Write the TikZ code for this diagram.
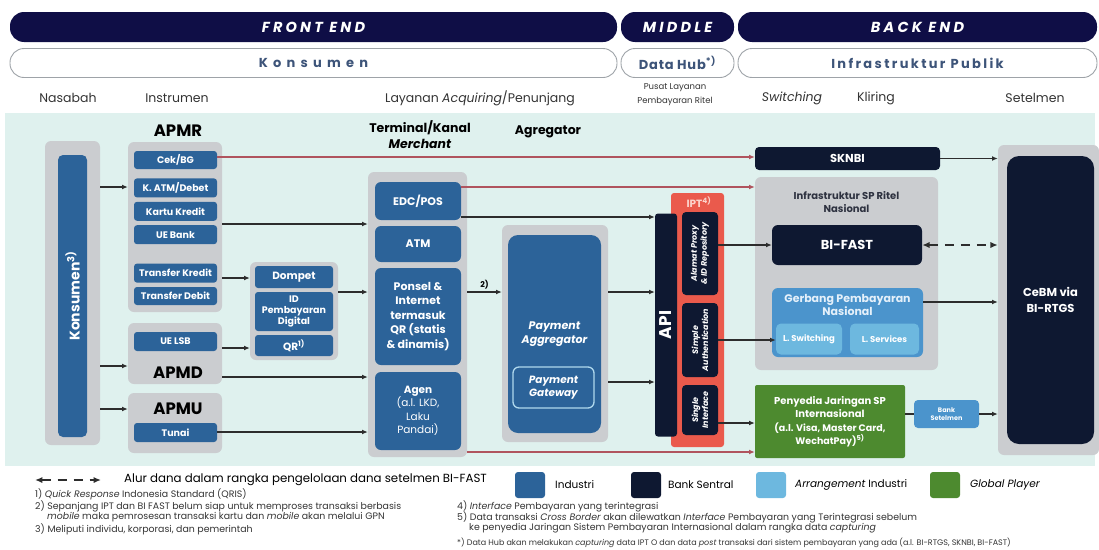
\documentclass[tikz,border=0pt]{standalone}
\usepackage{fontspec}
\setmainfont{Poppins}
\usetikzlibrary{arrows.meta,positioning,calc}
\definecolor{navy}{HTML}{0F0E46}
\definecolor{sentralc}{HTML}{0E1831}
\definecolor{industric}{HTML}{2C6399}
\definecolor{arrangec}{HTML}{6DB8DF}
\definecolor{gerbangc}{HTML}{4B94CC}
\definecolor{globalc}{HTML}{4D8A2F}
\definecolor{groupgray}{HTML}{CBCDD0}
\definecolor{iptred}{HTML}{EA5A4C}
\definecolor{iptlight}{HTML}{FBD3CB}
\definecolor{bgteal}{HTML}{DFF1EE}
\definecolor{konsc}{HTML}{3D5479}
\definecolor{infrac}{HTML}{2E3240}
\definecolor{gerbtext}{HTML}{E4F0FA}
\definecolor{flowred}{HTML}{B0545E}
\definecolor{linkc}{HTML}{2D2D2D}
\definecolor{edgec}{HTML}{9EA3A8}
\tikzset{
  band/.style={fill=navy,rounded corners=14pt,minimum height=30pt,inner sep=0pt},
  bandtext/.style={text=white,inner sep=0pt,
    font=\fontsize{14.5}{16}\selectfont\bfseries\itshape\addfontfeatures{LetterSpace=22}},
  tier/.style={draw=edgec,fill=white,rounded corners=14pt,line width=0.9pt,
    minimum height=29pt,inner sep=0pt},
  tiertext/.style={text=konsc,inner sep=0pt,
    font=\fontsize{13}{15}\selectfont\bfseries\addfontfeatures{LetterSpace=40}},
  colhead/.style={inner sep=0pt,align=center,text=black!80,font=\fontsize{12.5}{14}\selectfont},
  grp/.style={fill=groupgray,rounded corners=6pt,inner sep=0pt},
  grouplabel/.style={inner sep=0pt,font=\fontsize{16.5}{18}\selectfont\bfseries},
  toplabel/.style={inner sep=0pt,align=center,font=\fontsize{12.5}{16}\selectfont\bfseries},
  indbox/.style={fill=industric,rounded corners=3pt,inner sep=0pt,text=white,align=center,
    font=\fontsize{9.5}{11}\selectfont\bfseries},
  sentralbox/.style={fill=sentralc,rounded corners=4pt,inner sep=0pt,text=white,align=center,
    font=\bfseries},
  vtext/.style={rotate=90,inner sep=0pt,text=white,align=center,
    font=\fontsize{8}{10}\selectfont\bfseries\itshape},
  link/.style={-{Latex[length=2mm,width=1.7mm]},draw=linkc,line width=1.2pt},
  redlink/.style={-{Latex[length=2mm,width=1.7mm]},draw=flowred,line width=1.5pt},
  fundflow/.style={{Latex[length=2.6mm,width=2.2mm]}-{Latex[length=2.6mm,width=2.2mm]},
    draw=linkc,line width=2pt,dash pattern=on 9pt off 7pt},
  swatch/.style={minimum width=30pt,minimum height=26pt,rounded corners=3pt,inner sep=0pt},
  legendtext/.style={anchor=west,inner sep=0pt,font=\fontsize{10.5}{12}\selectfont},
  note/.style={anchor=west,inner sep=0pt,text=black!80,font=\fontsize{9.4}{10}\selectfont}
}

\begin{document}
\begin{tikzpicture}[x=1pt,y=-1pt]
\useasboundingbox (0,0) rectangle (1099,549);
\fill[bgteal] (5,113) rectangle (1095,466);

\node[band,minimum width=607] (fe) at (313.5,27) {};
\node[band,minimum width=113] (mid) at (677.5,27) {};
\node[band,minimum width=359] (be) at (917.5,27) {};
\node[bandtext] at (fe) {FRONT END};
\node[bandtext] at (mid) {MIDDLE};
\node[bandtext] at (be) {BACK END};
\node[tier,minimum width=607] (kons) at (313.5,63) {};
\node[tier,minimum width=113] (hub) at (677.5,63) {};
\node[tier,minimum width=359] (infp) at (917.5,63) {};
\node[tiertext] at (kons) {Konsumen};
\node[tiertext,font=\fontsize{13}{15}\selectfont\bfseries\addfontfeatures{LetterSpace=6}] at (hub) {Data Hub\textsuperscript{*)}};
\node[tiertext,font=\fontsize{13}{15}\selectfont\bfseries\addfontfeatures{LetterSpace=18}] at (infp) {Infrastruktur Publik};

\node[colhead] (nas) at (68,98) {Nasabah};
\node[colhead] (instr) at (177,98) {Instrumen};
\node[colhead] (lay) at (480,98) {Layanan \textit{Acquiring}/Penunjang};
\node[colhead,font=\fontsize{8.5}{14}\selectfont] (pusat) at (675,95) {Pusat Layanan\\Pembayaran Ritel};
\node[colhead] (sw) at (792,98) {\textit{Switching}};
\node[colhead] (kl) at (876,98) {Kliring};
\node[colhead] (st) at (1035,98) {Setelmen};

\node[grp,minimum width=55,minimum height=304] (konsgrp) at (72.5,293) {};
\node[indbox,minimum width=29,minimum height=282,rounded corners=5pt] (konsbar) at (72.5,296) {};
\node[vtext,font=\fontsize{14}{16}\selectfont\bfseries] at (konsbar) {Konsumen\textsuperscript{3)}};

\node[grouplabel] (lblapmr) at (178,131) {APMR};
\node[grp,minimum width=94,minimum height=170] (apmrgrp) at (175,227) {};
\node[indbox,minimum width=83,minimum height=18] (cekbg) at (175.5,160) {Cek/BG};
\node[indbox,minimum width=83,minimum height=19,below=9pt of cekbg] (katm) {K. ATM/Debet};
\node[indbox,minimum width=83,minimum height=19,below=4pt of katm] (kartu) {Kartu Kredit};
\node[indbox,minimum width=83,minimum height=19,below=4pt of kartu] (uebank) {UE Bank};
\node[indbox,minimum width=83,minimum height=19,below=19pt of uebank] (tkredit) {Transfer Kredit};
\node[indbox,minimum width=83,minimum height=18,below=4pt of tkredit] (tdebit) {Transfer Debit};

\node[grp,minimum width=94,minimum height=61] (apmdgrp) at (175,353.5) {};
\node[indbox,minimum width=83,minimum height=19] (uelsb) at (175.5,341.5) {UE LSB};
\node[grouplabel] (lblapmd) at (178,373) {APMD};
\node[grp,minimum width=94,minimum height=60] (apmugrp) at (175,423) {};
\node[grouplabel] (lblapmu) at (178,409) {APMU};
\node[indbox,minimum width=83,minimum height=19] (tunai) at (175.5,432.5) {Tunai};

\node[grp,minimum width=88,minimum height=98] (dompetgrp) at (294,311) {};
\node[indbox,minimum width=78,minimum height=22,font=\fontsize{10.5}{12}\selectfont\bfseries] (dompet) at (294,277) {Dompet};
\node[indbox,minimum width=78,minimum height=39,font=\fontsize{9.5}{11}\selectfont\bfseries] (idpay) at (294,311.5) {ID\\Pembayaran\\Digital};
\node[indbox,minimum width=78,minimum height=21,font=\fontsize{10.5}{12}\selectfont\bfseries] (qr) at (294,345.5) {QR\textsuperscript{1)}};

\node[toplabel] (lblterm) at (420,135) {Terminal/Kanal\\\textit{Merchant}};
\node[grp,minimum width=99,minimum height=285] (termgrp) at (417.5,314.5) {};
\node[indbox,minimum width=86,minimum height=38,rounded corners=6pt,font=\fontsize{11}{13}\selectfont\bfseries] (edc) at (418,201) {EDC/POS};
\node[indbox,minimum width=86,minimum height=36,rounded corners=6pt,font=\fontsize{11}{13}\selectfont\bfseries] (atm) at (418,244) {ATM};
\node[indbox,minimum width=86,minimum height=97,rounded corners=6pt,font=\fontsize{11}{14.5}\selectfont\bfseries] (ponsel) at (418,316.5) {Ponsel \&\\Internet\\termasuk\\QR (statis\\\& dinamis)};
\node[indbox,minimum width=86,minimum height=78,rounded corners=6pt,font=\fontsize{10.5}{13.5}\selectfont] (agen) at (418,411) {\textbf{Agen}\\(a.l. LKD,\\Laku\\Pandai)};

\node[toplabel] (lblagr) at (548,132) {Agregator};
\node[grp,minimum width=106,minimum height=217] (pagrp) at (555,333.5) {};
\node[indbox,minimum width=93,minimum height=198,rounded corners=10pt,font=\fontsize{11}{14}\selectfont\bfseries\itshape] (pa) at (554.5,334) {Payment\\Aggregator};
\node[indbox,draw=arrangec!55!white,line width=1.3pt,minimum width=81,minimum height=41,rounded corners=6pt,font=\fontsize{10.5}{13}\selectfont\bfseries\itshape] (pg) at (553.5,387.5) {Payment\\Gateway};

\node[fill=iptred,rounded corners=3pt,minimum width=53,minimum height=254,inner sep=0pt] (ipt) at (697.5,320) {};
\node[inner sep=0pt,text=iptlight,font=\fontsize{10.5}{12}\selectfont\bfseries] (lblipt) at (699,202) {IPT\textsuperscript{4)}};
\node[sentralbox,minimum width=22,minimum height=223,rounded corners=3pt] (api) at (666,325) {};
\node[vtext,font=\fontsize{17}{18}\selectfont\bfseries] at (api) {API};
\node[sentralbox,minimum width=36,minimum height=83] (alamat) at (700,253.5) {};
\node[vtext] at (alamat) {Alamat Proxy\\\& ID Repository};
\node[sentralbox,minimum width=36,minimum height=74] (simple) at (700,340) {};
\node[vtext] at (simple) {Simple\\Authentication};
\node[sentralbox,minimum width=36,minimum height=50] (single) at (700,410) {};
\node[vtext] at (single) {Single\\Interface};

\node[sentralbox,minimum width=185,minimum height=23,font=\fontsize{11.5}{13}\selectfont\bfseries] (sknbi) at (847.5,158.5) {SKNBI};
\node[grp,minimum width=183,minimum height=193] (infragrp) at (846.5,273.5) {};
\node[inner sep=0pt,align=center,text=infrac,font=\fontsize{10}{12.5}\selectfont\bfseries] (lblinfra) at (846.5,202) {Infrastruktur SP Ritel\\Nasional};
\node[sentralbox,minimum width=150,minimum height=40,rounded corners=6pt,font=\fontsize{13}{14}\selectfont\bfseries] (bifast) at (847,245) {BI-FAST};
\node[fill=gerbangc,rounded corners=6pt,minimum width=151,minimum height=69,inner sep=0pt] (gerbang) at (847.5,322.5) {};
\node[inner sep=0pt,align=center,text=gerbtext,font=\fontsize{11}{13.5}\selectfont\bfseries] (lblgerbang) at (847.5,305) {Gerbang Pembayaran\\Nasional};
\node[fill=arrangec,rounded corners=5pt,minimum width=66,minimum height=31,inner sep=0pt,text=white,font=\fontsize{8.5}{10}\selectfont\bfseries] (lswitch) at (809,339) {L. Switching};
\node[fill=arrangec,rounded corners=5pt,minimum width=69,minimum height=31,inner sep=0pt,text=white,font=\fontsize{8.5}{10}\selectfont\bfseries] (lservice) at (884.5,339) {L. Services};
\node[fill=globalc,rounded corners=2pt,minimum width=150,minimum height=73,inner sep=0pt,text=white,align=center,font=\fontsize{10}{13.5}\selectfont\bfseries] (penyedia) at (830,421.5) {Penyedia Jaringan SP\\Internasional\\{\fontsize{9.5}{13.5}\selectfont(a.l. Visa, Master Card,}\\{\fontsize{9.5}{13.5}\selectfont WechatPay)\textsuperscript{5)}}};
\node[fill=gerbangc,rounded corners=4pt,minimum width=65,minimum height=28,inner sep=0pt,text=white,align=center,font=\fontsize{6.5}{8}\selectfont\bfseries] (banksetl) at (946.5,414) {Bank\\Setelmen};
\node[grp,minimum width=101,minimum height=310] (cebmgrp) at (1048.5,300) {};
\node[sentralbox,minimum width=87,minimum height=288,rounded corners=12pt,font=\fontsize{11.5}{16}\selectfont\bfseries] (cebm) at (1050.5,300) {CeBM via\\BI-RTGS};

\coordinate (r157) at (0,157);
\coordinate (r187) at (0,187);
\coordinate (r217) at (0,217);
\coordinate (r224) at (0,224);
\coordinate (r245) at (0,245);
\coordinate (r278) at (0,278);
\coordinate (r292) at (0,292);
\coordinate (r302) at (0,302);
\coordinate (r340) at (0,340);
\coordinate (r348) at (0,348);
\coordinate (r366) at (0,366);
\coordinate (r377) at (0,377);
\coordinate (r382) at (0,382);
\coordinate (r409) at (0,409);
\coordinate (r423) at (0,423);
\coordinate (r432) at (0,432);
\coordinate (r452) at (0,452);

\draw[link] (konsgrp.east |- r187) -- (apmrgrp.west |- r187);
\draw[link] (konsgrp.east |- r366) -- (apmdgrp.west |- r366);
\draw[link] (konsgrp.east |- r409) -- (apmugrp.west |- r409);
\draw[redlink] (cekbg.east |- r157) -- (sknbi.west |- r157);
\draw[link] (apmrgrp.east |- r224) -- (termgrp.west |- r224);
\draw[link] (apmrgrp.east |- r278) -- (dompetgrp.west |- r278);
\draw[link] (apmdgrp.east |- r348) -- (dompetgrp.west |- r348);
\draw[link] (apmdgrp.east |- r377) -- (termgrp.west |- r377);
\draw[link] (tunai.east |- r432) -- (termgrp.west |- r432);
\draw[link] (dompetgrp.east |- r292) -- (termgrp.west |- r292);
\draw[link] (termgrp.east |- r292) -- node[above=2pt,inner sep=0pt,font=\fontsize{8}{9}\selectfont\bfseries]{2)} (pagrp.west |- r292);
\draw[redlink] (edc.east |- r187) -- (infragrp.west |- r187);
\draw[link] (edc.east |- r217) -- (api.west |- r217);
\draw[link] (pagrp.east |- r292) -- (api.west |- r292);
\draw[link] (pagrp.east |- r382) -- (api.west |- r382);
\draw[redlink] (termgrp.east |- r452) -- (penyedia.west |- r452);
\draw[link] (alamat.east |- r245) -- (bifast.west |- r245);
\draw[link] (simple.east |- r340) -- (lswitch.west |- r340);
\draw[link] (single.east |- r423) -- (penyedia.west |- r423);
\draw[link] (sknbi.east) -- (sknbi.east -| cebmgrp.west);
\draw[fundflow] (bifast.east) -- (bifast.east -| cebmgrp.west);
\draw[link] (gerbang.east |- r302) -- (cebmgrp.west |- r302);
\draw[draw=linkc,line width=1.2pt] (penyedia.east |- banksetl.west) -- (banksetl.west);
\draw[link] (banksetl.east) -- (banksetl.east -| cebmgrp.west);

\coordinate (lgl) at (35,480);
\coordinate (lgr) at (101,480);
\draw[fundflow] (lgl) -- (lgr);
\node[legendtext,font=\fontsize{11.8}{13}\selectfont] (lgtext) at (124,480) {Alur dana dalam rangka pengelolaan dana setelmen BI-FAST};
\node[swatch,fill=industric] (swind) at (530,485) {};
\node[legendtext] (lgind) at (555,485) {Industri};
\node[swatch,fill=sentralc] (swbs) at (646,485) {};
\node[legendtext] (lgbs) at (668,485) {Bank Sentral};
\node[swatch,fill=arrangec] (swarr) at (771,485) {};
\node[legendtext] (lgarr) at (795,485) {\textit{Arrangement} Industri};
\node[swatch,fill=globalc] (swgp) at (945,485) {};
\node[legendtext] (lggp) at (970,485) {\textit{Global Player}};

\node[note] (n1) at (35,494) {1) \textit{Quick Response} Indonesia Standard (QRIS)};
\node[note] (n2) at (35,506) {2) Sepanjang IPT dan BI FAST belum siap untuk memproses transaksi berbasis};
\node[note] (n2b) at (47,517) {\textit{mobile} maka pemrosesan transaksi kartu dan \textit{mobile} akan melalui GPN};
\node[note] (n3) at (35,529) {3) Meliputi individu, korporasi, dan pemerintah};
\node[note] (n4) at (457,506) {4) \textit{Interface} Pembayaran yang terintegrasi};
\node[note] (n5) at (457,517) {5) Data transaksi \textit{Cross Border} akan dilewatkan \textit{Interface} Pembayaran yang Terintegrasi sebelum};
\node[note] (n5b) at (469,528) {ke penyedia Jaringan Sistem Pembayaran Internasional dalam rangka data \textit{capturing}};
\node[note,font=\fontsize{8}{9}\selectfont] (n6) at (457,543) {*) Data Hub akan melakukan \textit{capturing} data IPT O dan data \textit{post} transaksi dari sistem pembayaran yang ada (a.l. BI-RTGS, SKNBI, BI-FAST)};
\end{tikzpicture}
\end{document}
